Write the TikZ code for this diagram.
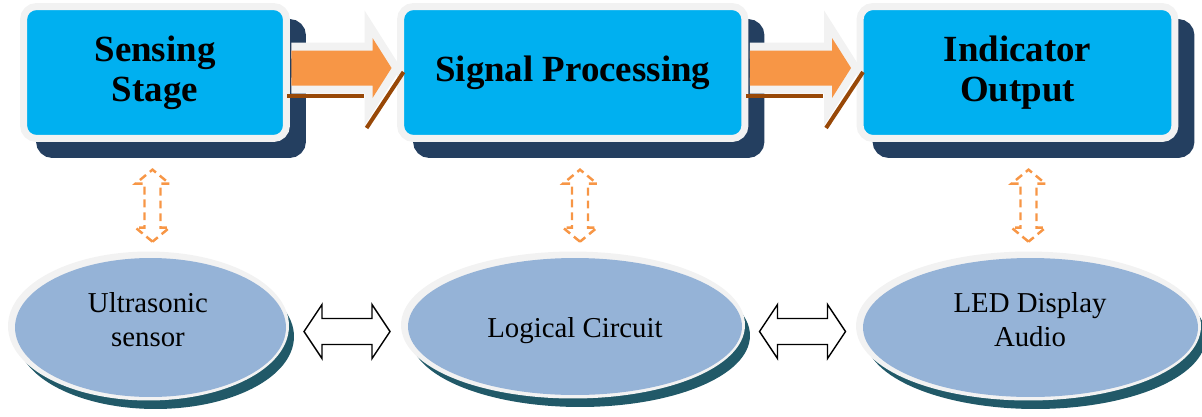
\documentclass[tikz,border=0pt]{standalone}
\usepackage{fontspec}
\setmainfont{Liberation Serif}
\usetikzlibrary{calc,shapes.geometric,shadows}

\definecolor{stageblue}{HTML}{00B0F0}
\definecolor{stagenavy}{HTML}{243F60}
\definecolor{rimgray}{HTML}{F2F2F2}
\definecolor{floworange}{HTML}{F79646}
\definecolor{flowbrown}{HTML}{984807}
\definecolor{partblue}{HTML}{95B3D7}
\definecolor{partteal}{HTML}{215968}

\begin{document}
\begin{tikzpicture}[x=0.02cm,y=-0.02cm,
	stage/.style={draw=rimgray, fill=stageblue, line width=0.14cm, rounded corners=0.26cm,
		minimum height=2.64cm, inner sep=0pt, align=center,
		font=\fontsize{21}{22.7}\selectfont\bfseries,
		general shadow={fill=stagenavy, draw=stagenavy, line width=0.14cm,
			shadow xshift=0.32cm, shadow yshift=-0.32cm}},
	part/.style={ellipse, fill=partblue, inner sep=0pt,
		preaction={draw=partteal, fill=partteal, line width=0.12cm,
			transform canvas={xshift=0.1cm, yshift=-0.18cm}},
		preaction={draw=rimgray, fill=rimgray, line width=0.2cm,
			transform canvas={xshift=-0.04cm, yshift=0.03cm}}},
	parttext/.style={align=center, font=\fontsize{16.4}{19.3}\selectfont},
	flow/.style={fill=floworange, preaction={draw=rimgray, line width=0.32cm}},
	flowedge/.style={draw=flowbrown, line width=0.08cm},
	uplink/.style={draw=floworange, line width=1.4pt, dash pattern=on 4.5pt off 2.8pt},
	sidelink/.style={draw=black, fill=white, line width=0.8pt, line join=miter}]

	\useasboundingbox (0,0) rectangle (1202,416);

	% the three stages
	\node[stage, minimum width=5.26cm] (sense) at (155,72.5) {Sensing\\Stage};
	\node[stage, minimum width=6.89cm] (proc) at (572.75,72.5) {Signal Processing};
	\node[stage, minimum width=6.30cm] (show) at (1017.5,72.5) {Indicator\\Output};

	% the parts below them
	\node[part, minimum width=5.42cm, minimum height=2.78cm] (sensor) at (150.5,327.5) {};
	\node[part, minimum width=6.68cm, minimum height=2.74cm] (logic) at (575,326.5) {};
	\node[part, minimum width=6.70cm, minimum height=2.78cm] (led) at (1030.5,327.5) {};

	\node[parttext] (sensortext) at (148,320) {Ultrasonic\\sensor};
	\node[parttext] (logictext) at (575,330.4) {Logical Circuit};
	\node[parttext] (ledtext) at (1030,320) {LED Display\\Audio};

	% orange arrows from stage to stage
	\foreach \a/\b in {sense/proc,proc/show}{
		\coordinate (s) at ($(\a.east)+(1.5,-4.5)$);
		\coordinate (t) at ($(\b.west)+(-5.5,-4.5)$);
		\draw[flowedge] ($(s)+(-4,28)$) -- ($(t)+(-28,28)$);
		\draw[flowedge] ($(t)+(-25,60)$) -- ($(t)+(12,4)$);
		\path[flow] ($(s)+(0,-17.5)$) -- ($(t)+(-19,-17.5)$) -- ($(t)+(-19,-30)$) -- (t)
			-- ($(t)+(-19,30)$) -- ($(t)+(-19,17.5)$) -- ($(s)+(0,17.5)$);
	}

	% dashed arrows between stage and part
	\foreach \n/\dx in {sensor/2,logic/5,led/-2}{
		\coordinate (b) at ($(\n.north)+(\dx,-16)$);
		\draw[uplink] (b) -- ++(-17,-14) -- ++(9,0) -- ++(0,-44) -- ++(-9,0) -- ++(17,-14)
			-- ++(17,14) -- ++(-9,0) -- ++(0,44) -- ++(9,0) -- cycle;
	}

	% open arrows between the parts
	\foreach \a/\b in {sensor/logic,logic/led}{
		\coordinate (m) at ($(\a.east)!0.5!(\b.west)+(0,4.5)$);
		\draw[sidelink] (m) ++(-43,0) -- ++(18,-27) -- ++(0,14) -- ++(50,0) -- ++(0,-14)
			-- ++(18,27) -- ++(-18,27) -- ++(0,-14) -- ++(-50,0) -- ++(0,14) -- cycle;
	}
\end{tikzpicture}
\end{document}
